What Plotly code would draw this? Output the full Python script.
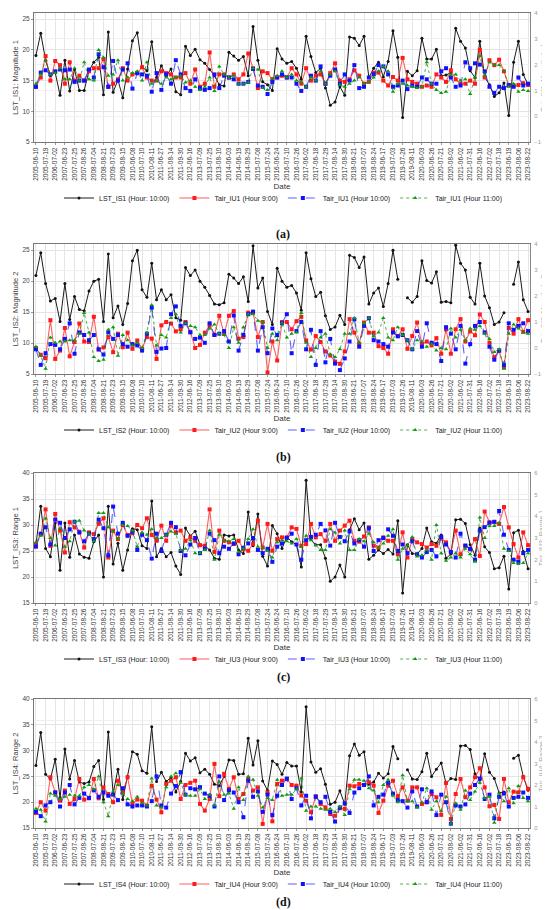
import plotly.graph_objects as go

# x-axis labels (every second observation carries a label)
tick_dates = [
    "2005-06-10", "2005-07-19", "2006-07-02", "2007-06-23", "2007-07-25", "2007-08-26",
    "2008-07-04", "2008-08-21", "2009-07-23", "2009-08-15", "2010-06-08", "2010-07-10",
    "2010-08-11", "2011-06-27", "2011-08-14", "2011-09-30", "2012-06-16", "2013-07-09",
    "2013-07-25", "2013-08-10", "2014-06-03", "2014-06-19", "2014-08-29", "2015-07-08",
    "2015-07-24", "2016-06-24", "2016-07-10", "2016-07-26", "2017-06-02", "2017-06-18",
    "2017-07-29", "2017-08-14", "2017-08-30", "2018-06-21", "2018-07-07", "2018-08-24",
    "2019-06-17", "2019-07-03", "2019-07-26", "2019-08-11", "2020-06-03", "2020-06-26",
    "2020-07-21", "2020-08-02", "2021-06-02", "2021-07-31", "2022-06-16", "2022-07-02",
    "2022-07-18", "2023-06-19", "2023-08-06", "2023-08-22",
]
obs = list(range(103))
tick_obs = obs[::2]

# ---- (a) Magnitude 1
lst_is1 = [19.1, 22.7, 18.3, 15.8, 16.3, 12.6, 18.3, 13.3, 16.8, 13.4, 13.4, 16.6, 18.0, 18.8, 12.7, 22.9,
           13.1, 15.1, 12.2, 16.9, 21.5, 22.8, 17.2, 16.6, 21.3, 15.5, 17.4, 15.7, 16.9, 13.2, 12.7, 20.6,
           19.1, 20.1, 18.4, 17.8, 16.8, 15.8, 14.3, 14.1, 19.6, 19.0, 18.3, 18.9, 15.8, 23.8, 18.3, 14.8,
           14.3, 13.4, 20.2, 18.5, 17.8, 18.1, 17.0, 15.2, 22.2, 18.9, 16.3, 17.0, 13.8, 11.0, 11.5, 14.0,
           12.6, 22.1, 21.9, 20.7, 22.2, 15.5, 17.0, 18.0, 15.6, 18.1, 23.1, 18.8, 9.0, 16.5, 15.8, 16.6,
           21.9, 18.5, 18.5, 20.1, 15.8, 15.9, 16.3, 23.5, 21.4, 20.3, 16.6, 15.5, 21.4, 15.6, 14.3, 12.4,
           13.0, 14.6, 9.3, 18.0, 21.4, 16.0, 14.3]
tair_iu1_h9 = [1.14, 1.50, 2.33, 1.38, 2.14, 1.98, 1.26, 2.09, 1.38, 1.57, 1.38, 1.74, 1.86, 1.86, 2.21, 1.14,
               1.26, 1.43, 1.86, 1.38, 1.62, 1.67, 1.90, 1.50, 1.38, 1.38, 1.74, 1.67, 1.62, 1.50, 1.50, 1.67,
               1.26, 1.81, 1.14, 1.26, 2.47, 1.14, 1.62, 1.62, 1.50, 1.62, 1.43, 1.62, 2.43, 1.86, 1.09, 1.74,
               1.67, 1.43, 1.50, 1.57, 1.50, 1.86, 1.62, 1.26, 1.86, 1.38, 1.57, 1.62, 1.26, 1.67, 2.05, 1.38,
               1.33, 1.43, 1.78, 1.57, 1.26, 1.33, 1.69, 1.69, 1.38, 1.19, 1.52, 1.38, 2.26, 1.43, 1.33, 1.26,
               1.14, 1.19, 1.14, 1.62, 1.50, 1.33, 1.78, 1.43, 1.26, 1.26, 1.38, 1.26, 2.57, 1.50, 2.17, 1.98,
               2.19, 1.74, 1.19, 1.19, 1.21, 1.28, 1.21]
tair_iu1_h10 = [1.14, 1.69, 1.78, 1.62, 1.74, 1.81, 1.78, 1.81, 1.33, 1.38, 1.38, 1.81, 1.50, 2.40, 1.90, 1.14,
                2.14, 1.38, 1.81, 2.05, 1.07, 1.67, 1.62, 1.57, 0.95, 1.67, 1.02, 1.62, 1.26, 2.17, 1.62, 1.09,
                0.98, 1.43, 1.09, 1.02, 1.09, 1.62, 1.09, 1.57, 1.50, 1.43, 1.26, 1.26, 1.33, 1.83, 1.19, 1.14,
                0.86, 1.33, 1.50, 1.62, 1.50, 1.50, 1.26, 0.98, 1.14, 1.57, 1.38, 1.93, 1.26, 1.57, 1.81, 1.26,
                1.62, 1.38, 1.98, 1.09, 1.14, 1.50, 1.62, 1.98, 1.93, 1.62, 1.14, 1.19, 1.38, 1.05, 1.19, 1.14,
                1.50, 1.43, 1.26, 1.26, 1.74, 1.86, 1.50, 1.14, 1.19, 2.09, 1.86, 2.05, 2.00, 1.74, 1.14, 0.90,
                1.14, 1.09, 1.21, 1.14, 1.50, 1.19, 1.26]
tair_iu1_h11 = [1.26, 1.62, 2.17, 1.62, 1.67, 1.86, 1.43, 1.43, 1.86, 1.38, 2.09, 1.43, 1.38, 2.57, 2.28, 1.57,
                1.62, 2.17, 1.38, 1.50, 1.67, 1.74, 1.38, 2.09, 1.26, 1.38, 1.26, 1.50, 1.43, 1.50, 1.57, 1.31,
                1.38, 1.14, 1.02, 1.14, 1.50, 0.98, 1.93, 1.62, 1.50, 1.57, 1.26, 1.26, 1.31, 1.86, 1.81, 1.09,
                1.02, 1.45, 1.57, 1.74, 1.50, 1.62, 1.38, 1.33, 1.14, 1.50, 1.38, 1.74, 1.26, 1.62, 1.74, 1.21,
                1.14, 1.26, 1.38, 1.50, 1.26, 1.33, 1.50, 1.74, 1.93, 1.74, 0.95, 1.26, 1.26, 1.19, 1.14, 1.09,
                1.14, 2.09, 1.26, 1.02, 0.90, 0.95, 1.62, 1.62, 1.38, 1.43, 0.86, 1.50, 2.33, 1.57, 2.09, 1.98,
                1.98, 1.74, 1.14, 1.26, 0.95, 1.02, 0.98]

# ---- (b) Magnitude 2
lst_is2 = [20.9, 24.6, 19.6, 16.8, 17.2, 13.5, 19.6, 13.8, 17.5, 15.4, 15.2, 18.4, 20.0, 20.3, 13.5, 24.4,
           14.1, 16.0, 13.0, 16.4, 23.3, 25.0, 18.6, 17.4, 22.9, 17.0, 18.6, 17.0, 17.8, 14.1, 13.7, 22.2,
           20.9, 21.8, 20.0, 19.0, 17.7, 16.3, 16.2, 16.5, 21.1, 20.5, 19.6, 20.7, 16.7, 25.7, 18.9, 20.5,
           15.1, 13.0, 22.1, 20.0, 19.0, 19.3, 18.1, 15.3, 24.6, 20.4, 17.5, 18.2, 14.4, 12.2, 12.6, 14.5,
           13.0, 24.2, 23.8, 22.2, 23.9, 16.3, 18.1, 18.9, 15.9, 19.6, 25.0, 20.3, None, 17.3, 16.6, 17.5,
           23.3, 20.1, 19.7, 21.5, 16.6, 16.7, 16.5, 25.8, 22.9, 21.8, 17.4, 16.3, 22.9, 17.6, 15.7, 13.0,
           13.4, 14.9, None, 19.5, 23.1, 17.0, 15.1]
tair_iu2_h9 = [0.00, -0.26, -0.39, 1.07, -0.42, -0.10, 0.77, -0.32, 0.23, 0.94, 0.25, 0.23, 1.20, -0.06, 0.02,
               0.42, -0.16, 0.55, 0.03, 0.59, -0.03, 0.29, -0.03, 0.42, 0.36, -0.42, 0.87, 1.00, 0.94, 0.64,
               0.72, 1.00, 0.62, 0.00, 0.12, 0.59, 0.87, 0.51, 1.24, 0.54, 1.24, 1.42, 0.36, 0.42, 1.36, 1.36,
               0.42, 1.00, -0.94, 0.25, -0.48, 1.00, 1.00, 0.72, 1.03, 1.20, 0.29, -0.06, 0.46, 0.23, -0.13,
               -0.29, -0.52, -0.61, -0.13, 1.11, 0.59, 0.16, 0.98, 0.59, 0.59, 0.07, 0.00, -0.22, 0.72, 0.46,
               0.72, -0.03, 0.46, 0.98, 0.16, 0.25, 0.10, 0.38, -0.22, 0.72, -0.22, 0.72, 1.11, 0.25, 0.64,
               0.49, 1.29, 1.00, 0.20, -0.35, -0.10, -0.74, 0.77, 0.55, 1.11, 0.62, 1.07]
tair_iu2_h10 = [-0.05, -0.65, -0.20, 0.15, 0.12, -0.05, 0.35, 0.95, -0.22, 0.60, 0.50, 0.30, 0.50, -0.05, -0.25,
                0.60, 0.35, 0.50, 0.15, 0.05, 0.15, 0.10, -0.10, 0.55, 1.55, -0.15, -0.02, 0.00, 1.30, 1.60,
                0.85, 0.95, 0.60, 0.35, 0.40, 0.20, 0.95, 0.50, 0.55, 0.65, 0.25, 1.25, -0.10, 0.50, 1.30, 1.40,
                -0.10, 0.80, -0.20, 0.75, 0.50, 0.95, 1.30, -0.20, 0.65, 1.00, -0.05, 0.70, -0.65, 0.65, -0.55,
                0.35, -0.60, -0.85, -0.40, 0.25, 1.10, 0.05, 0.85, 1.15, 0.30, 0.25, 0.15, 0.05, 0.60, 0.45,
                0.50, 0.30, -0.05, 0.65, 0.05, 0.95, 0.20, 0.15, -0.50, 0.80, 0.55, -0.05, 0.85, -0.60, 0.15,
                0.85, 1.00, 0.60, 0.05, -0.45, -0.10, -0.65, 0.95, 0.70, 0.85, 0.95, 0.65]
tair_iu2_h11 = [0.05, -0.30, -0.80, 0.40, 0.20, 0.25, 0.25, 0.30, 0.30, 0.55, 1.35, 0.60, -0.35, -0.50, -0.45,
                0.70, 0.80, -0.30, 0.50, 0.30, 0.10, 0.20, 0.00, 0.60, 1.65, 0.10, 0.50, 0.40, 1.15, 1.30,
                0.60, 0.95, 0.85, 0.80, 0.50, 0.50, 0.75, 0.90, 0.55, 0.50, 0.00, 0.80, 0.20, 0.80, 1.30, 1.30,
                1.05, 1.00, 0.00, 0.55, 0.30, 0.95, 0.40, 0.55, 0.60, 1.35, 0.20, -0.35, 0.00, 0.40, 0.55,
                -0.25, -0.35, -0.05, 0.55, 0.55, 1.15, 0.20, 0.95, 1.15, 0.45, 0.60, 1.15, 0.40, 0.30, 0.80,
                0.50, 0.30, -0.05, 0.30, 0.25, 0.05, 0.15, -0.10, 0.00, -0.05, 0.75, 0.40, 0.70, 0.30, 0.75,
                0.70, 0.85, 0.55, 0.35, -0.15, -0.05, -0.80, 0.55, 0.90, 0.75, 0.60, 0.55]

# ---- (c) Range 1
lst_is3 = [26.2, 33.6, 25.5, 23.9, 30.4, 21.3, 30.4, 23.8, 28.1, 24.4, 23.8, 23.6, 26.8, 28.1, 20.0, 33.6,
           22.5, 26.5, 21.3, 25.2, 29.3, 29.1, 26.0, 25.5, 34.6, 23.9, 25.5, 23.9, 24.7, 22.1, 20.5, 29.4,
           27.9, 28.8, 26.2, 26.0, 25.2, 23.6, 23.4, 28.1, 27.9, 28.1, 25.2, 24.5, 32.5, 26.0, 32.1, 24.0,
           22.1, 29.9, 28.3, 25.5, 27.7, 26.8, 26.2, 21.9, 38.6, 27.2, 26.2, 26.2, 23.6, 19.2, 20.0, 22.3,
           20.0, 29.1, 31.2, 29.1, 30.4, 23.4, 24.2, 25.2, 24.5, 25.3, 24.4, 30.8, 16.9, 26.2, 24.5, 24.4,
           25.5, 29.4, 26.8, 26.5, 28.1, 23.6, 24.4, 31.0, 31.1, 30.3, 26.2, 24.2, 29.4, 25.8, 24.7, 21.6,
           21.8, 24.0, 17.7, 28.5, 29.0, 24.9, 21.6]
tair_iu3_h9 = [2.72, 3.18, 4.32, 2.64, 4.11, 3.34, 2.33, 3.73, 3.49, 3.29, 2.56, 3.26, 3.18, 3.65, 3.91, 2.10,
               3.34, 2.95, 3.60, 3.14, 3.23, 3.60, 3.45, 3.91, 3.14, 2.87, 3.57, 2.87, 3.57, 3.26, 3.34, 2.87,
               3.03, 2.87, 2.67, 2.64, 4.32, 2.36, 3.34, 2.87, 2.80, 2.72, 2.87, 2.48, 2.41, 2.72, 3.80, 2.56,
               3.65, 2.41, 2.95, 3.03, 3.03, 3.49, 3.42, 2.64, 2.72, 3.65, 3.03, 3.18, 2.87, 3.65, 2.87, 3.34,
               3.57, 3.80, 2.87, 2.83, 3.07, 3.49, 2.64, 2.56, 3.03, 2.87, 2.87, 2.25, 3.26, 2.10, 2.95, 2.80,
               2.72, 2.56, 2.72, 2.64, 2.98, 2.80, 2.36, 3.34, 2.25, 2.64, 2.48, 2.95, 2.17, 4.22, 3.73, 3.73,
               3.65, 4.43, 3.49, 2.72, 2.10, 3.26, 2.67]
tair_iu3_h10 = [2.60, 3.20, 3.50, 2.70, 3.85, 3.70, 3.00, 3.40, 3.75, 3.25, 2.85, 3.20, 2.95, 3.85, 3.45, 2.20,
                4.45, 3.20, 3.70, 3.10, 3.30, 2.45, 3.15, 2.90, 2.05, 3.20, 2.40, 3.15, 3.70, 3.50, 2.40, 2.20,
                2.70, 3.00, 2.30, 2.50, 3.20, 2.90, 2.30, 2.60, 2.50, 2.75, 2.25, 2.55, 2.75, 3.00, 2.45, 2.30,
                2.50, 1.90, 2.60, 2.75, 3.00, 3.20, 2.70, 2.00, 2.90, 3.05, 3.15, 3.65, 3.35, 2.65, 3.70, 3.05,
                2.85, 3.30, 2.75, 2.90, 2.60, 3.45, 2.40, 2.90, 3.00, 3.40, 3.10, 2.40, 2.70, 2.30, 2.85, 2.25,
                2.10, 2.35, 2.45, 2.15, 3.05, 2.70, 2.35, 2.10, 3.20, 2.65, 2.50, 2.00, 3.35, 3.50, 3.70, 3.75,
                4.25, 3.15, 2.45, 2.00, 1.90, 2.30, 2.45]
tair_iu3_h11 = [2.80, 3.10, 3.90, 3.00, 2.65, 3.45, 2.60, 2.85, 3.75, 3.80, 3.35, 3.20, 2.85, 4.15, 4.15, 3.50,
                3.30, 2.95, 3.60, 3.55, 3.35, 2.60, 3.25, 3.15, 3.40, 3.00, 3.00, 3.15, 3.30, 3.20, 2.45, 2.50,
                2.90, 2.30, 2.30, 2.45, 3.35, 2.00, 3.15, 2.90, 2.85, 2.95, 2.35, 2.50, 2.95, 3.40, 2.60, 2.55,
                2.40, 2.10, 2.80, 2.90, 2.85, 2.75, 2.95, 2.60, 3.10, 2.90, 2.65, 2.45, 2.45, 3.40, 3.25, 2.75,
                3.35, 2.45, 2.45, 2.95, 2.85, 3.20, 2.80, 2.55, 2.75, 3.10, 3.40, 2.00, 2.50, 2.65, 3.05, 2.15,
                2.20, 2.45, 2.00, 3.60, 2.30, 1.95, 2.10, 2.30, 2.10, 2.50, 2.25, 1.90, 3.95, 3.00, 3.55, 3.55,
                3.70, 2.50, 2.40, 1.85, 1.80, 1.85, 2.30]

# ---- (d) Range 2
lst_is4 = [27.1, 33.5, 25.4, 24.5, 28.3, 20.8, 30.3, 24.5, 28.1, 23.9, 23.6, 23.9, 26.9, 28.1, 20.5, 33.6,
           21.7, 26.4, 20.5, 25.0, 29.8, 29.3, 26.1, 25.6, 34.6, 24.0, 25.8, 24.0, 24.8, 22.0, 24.0, 29.5,
           28.0, 28.6, 25.7, 26.4, 25.4, 23.5, 23.2, 25.0, 28.2, 28.1, 25.4, 25.5, 32.4, 27.2, 31.9, 24.1,
           22.3, 28.0, 27.3, 25.4, 27.7, 27.0, 27.0, 22.0, 38.5, 27.8, 25.8, 26.5, 23.5, 19.6, 20.0, 22.2,
           19.6, 29.0, 31.3, 29.1, 29.8, 23.5, 23.9, 25.6, 24.7, 25.5, 30.8, 28.4, None, 26.3, 24.5, 24.4,
           25.9, 29.5, 25.0, 26.4, 27.6, 23.6, 24.6, 24.4, 30.9, 31.0, 30.2, 25.5, 24.3, 29.4, 25.8, 24.6,
           21.8, 22.0, None, 28.5, 29.1, 25.0, 22.3]
tair_iu4_h9 = [0.70, 1.20, 0.81, 2.36, 1.66, 1.27, 1.74, 1.12, 1.35, 2.28, 1.32, 1.38, 2.28, 1.38, 1.89, 1.58,
               1.20, 2.20, 1.66, 2.36, 1.12, 1.32, 1.27, 1.04, 1.97, 1.32, 0.73, 2.05, 2.20, 2.36, 1.35, 2.00,
               2.10, 2.20, 1.12, 0.81, 1.35, 2.98, 1.48, 2.52, 1.82, 2.36, 1.35, 1.58, 2.28, 1.74, 1.89, 0.19,
               1.66, 0.31, 2.05, 2.20, 2.28, 2.00, 1.97, 1.51, 1.27, 0.73, 1.48, 1.12, 0.96, 0.65, 0.57, 0.92,
               0.89, 1.97, 1.94, 2.05, 2.00, 2.13, 1.97, 0.70, 1.27, 1.97, 2.20, 1.48, 1.89, 1.27, 1.89, 1.89,
               1.12, 1.20, 1.58, 1.43, 0.61, 2.10, 0.42, 1.58, 2.28, 1.43, 1.89, 2.36, 2.78, 1.89, 1.01, 1.07,
               0.42, 2.28, 1.20, 1.69, 1.66, 2.36, 1.82]
tair_iu4_h10 = [0.75, 0.55, 1.05, 1.20, 1.65, 1.00, 1.65, 2.00, 1.10, 1.40, 1.60, 1.40, 1.75, 1.45, 1.65, 1.50,
                1.55, 1.30, 1.85, 1.10, 1.00, 1.05, 1.05, 1.00, 1.25, 2.40, 1.05, 0.95, 1.60, 1.95, 2.60, 1.55,
                1.85, 1.80, 1.90, 1.60, 1.50, 1.00, 2.40, 1.30, 1.75, 1.65, 1.20, 0.50, 2.20, 1.45, 1.70, 0.75,
                1.55, 0.60, 1.50, 2.00, 2.30, 1.35, 1.85, 1.05, 1.50, 0.45, 1.45, 1.20, 1.45, 0.75, 0.30, 0.95,
                1.15, 0.70, 1.65, 1.85, 2.00, 2.40, 1.05, 1.45, 1.55, 2.10, 1.60, 1.30, 1.25, 0.95, 1.70, 1.00,
                1.80, 1.20, 1.70, 0.60, 1.55, 1.20, 0.20, 1.05, 1.00, 1.10, 1.60, 2.00, 2.30, 1.35, 1.55, 0.45,
                1.45, 1.60, 1.00, 1.40, 1.45, 1.65, 1.40]
tair_iu4_h11 = [0.90, 0.85, 0.30, 1.60, 1.50, 1.35, 1.45, 1.55, 1.50, 1.50, 1.90, 2.00, 1.80, 2.40, 1.20, 0.55,
                1.70, 2.00, 1.60, 1.35, 1.25, 1.45, 1.15, 1.05, 2.30, 1.05, 0.95, 1.90, 2.40, 2.55, 2.10, 1.55,
                1.50, 1.50, 1.80, 1.35, 1.55, 1.05, 2.15, 1.55, 1.60, 0.90, 1.90, 1.30, 2.40, 2.25, 1.50, 0.95,
                1.40, 1.30, 2.25, 1.50, 1.55, 1.55, 1.80, 2.30, 0.80, 1.00, 1.00, 0.90, 0.85, 0.90, 0.75, 1.00,
                0.60, 1.80, 2.25, 2.25, 2.20, 1.85, 1.75, 1.20, 2.00, 2.25, 1.50, 1.20, 2.45, 1.25, 1.25, 0.95,
                1.20, 1.85, 0.85, 1.25, 0.80, 1.45, 0.20, 1.15, 0.85, 1.75, 1.30, 1.70, 2.10, 1.40, 1.45, 0.25,
                1.60, 1.25, 1.85, 1.15, 1.95, 1.40, 1.25]

panels = [
    # number, measure, LST series, Tair series (9h, 10h, 11h), left range, right range, caption
    ("1", "Magnitude 1", lst_is1, [tair_iu1_h9, tair_iu1_h10, tair_iu1_h11], [5, 26], [-1, 4], "(a)"),
    ("2", "Magnitude 2", lst_is2, [tair_iu2_h9, tair_iu2_h10, tair_iu2_h11], [5, 26], [-1, 4], "(b)"),
    ("3", "Range 1", lst_is3, [tair_iu3_h9, tair_iu3_h10, tair_iu3_h11], [15, 40], [0, 6], "(c)"),
    ("4", "Range 2", lst_is4, [tair_iu4_h9, tair_iu4_h10, tair_iu4_h11], [15, 40], [0, 6], "(d)"),
]

# pixel layout of each panel's plot area (top, bottom) in a 550x910 page
W, H = 550, 910
panel_px = [(5, 134), (236, 366), (465, 595), (691, 820)]
x_dom = [26 / W, 522 / W]

hours = ["9:00", "10:00", "11:00"]
tair_style = [
    dict(line=dict(color="rgba(255,40,40,0.75)", width=1.1),
         marker=dict(symbol="square", size=4, color="#ff1a1a")),
    dict(line=dict(color="rgba(30,30,255,0.7)", width=1.1, dash="dash"),
         marker=dict(symbol="square", size=4, color="#1010ff")),
    dict(line=dict(color="rgba(0,140,0,0.7)", width=1, dash="dot"),
         marker=dict(symbol="triangle-up", size=4, color="#119911")),
]

fig = go.Figure()
FONT = "Liberation Sans, Arial, sans-serif"

for k, (num, measure, lst, tairs, lrange, rrange, cap) in enumerate(panels):
    top, bot = panel_px[k]
    xa = "x" if k == 0 else f"x{k + 1}"
    yl = "y" if k == 0 else f"y{2 * k + 1}"
    yr = f"y{2 * k + 2}"
    leg = "legend" if k == 0 else f"legend{k + 1}"

    fig.add_trace(go.Scatter(
        x=obs, y=lst, xaxis=xa, yaxis=yl, mode="lines+markers",
        name=f"LST_IS{num} (Hour: 10:00)", legend=leg,
        line=dict(color="#1a1a1a", width=1), marker=dict(size=3, color="#111111"),
        connectgaps=False))
    for h, series, st in zip(hours, tairs, tair_style):
        fig.add_trace(go.Scatter(
            x=obs, y=series, xaxis=xa, yaxis=yr, mode="lines+markers",
            name=f"Tair_IU{num} (Hour {h})", legend=leg, **st))

    y_dom = [1 - bot / H, 1 - top / H]
    sfx = "" if k == 0 else str(k + 1)
    lnum = "" if k == 0 else str(2 * k + 1)
    rnum = str(2 * k + 2)

    fig.layout[f"xaxis{sfx}"] = dict(
        domain=x_dom, anchor=yl, range=[-0.4, 102.4],
        tickmode="array", tickvals=tick_obs, ticktext=tick_dates, tickangle=-90,
        tickfont=dict(size=6.5, color="#333", family=FONT),
        showgrid=True, gridcolor="#e4e4e4", gridwidth=0.8,
        showline=True, linecolor="#777", linewidth=1, mirror=True,
        ticks="outside", ticklen=2, tickcolor="#999",
        title=dict(text="Date", font=dict(size=8, color="#333", family=FONT), standoff=3),
        zeroline=False, automargin=False)
    fig.layout[f"yaxis{lnum}"] = dict(
        domain=y_dom, anchor=xa, range=lrange, dtick=5,
        tickfont=dict(size=6.5, color="#444", family=FONT),
        showgrid=True, gridcolor="#e4e4e4", gridwidth=0.8,
        showline=True, linecolor="#777", linewidth=1,
        ticks="outside", ticklen=2, tickcolor="#999",
        title=dict(text=f"LST_IS{num}: {measure}", font=dict(size=7.5, color="#444", family=FONT),
                   standoff=2),
        zeroline=False, automargin=False)
    fig.layout[f"yaxis{rnum}"] = dict(
        overlaying=yl, anchor=xa, side="right", range=rrange, dtick=1,
        tickfont=dict(size=6, color="#999", family=FONT),
        showgrid=True, gridcolor="#f0f0f0", gridwidth=0.6,
        showline=True, linecolor="#888", linewidth=1.2,
        ticks="", ticklabelstandoff=2,
        title=dict(text=f"Tair_IU{num}: {measure}", font=dict(size=7, color="#aaa", family=FONT),
                   standoff=0),
        zeroline=False, automargin=False)

    fig.layout[leg] = dict(
        orientation="h", x=0.5, xanchor="center", y=1 - (bot + 56) / H, yanchor="middle",
        font=dict(size=7, color="#222", family=FONT), bgcolor="rgba(0,0,0,0)",
        itemwidth=30, tracegroupgap=0)

    fig.add_annotation(
        text=f"<b>{cap}</b>", xref="paper", yref="paper", x=0.5, y=1 - (bot + 83) / H,
        showarrow=False, font=dict(size=12, color="#111", family="Liberation Serif, serif"))

fig.update_layout(
    width=W, height=H, autosize=False,
    margin=dict(l=0, r=0, t=0, b=0),
    paper_bgcolor="white", plot_bgcolor="white",
    showlegend=True,
)

fig.write_html("out.html")
